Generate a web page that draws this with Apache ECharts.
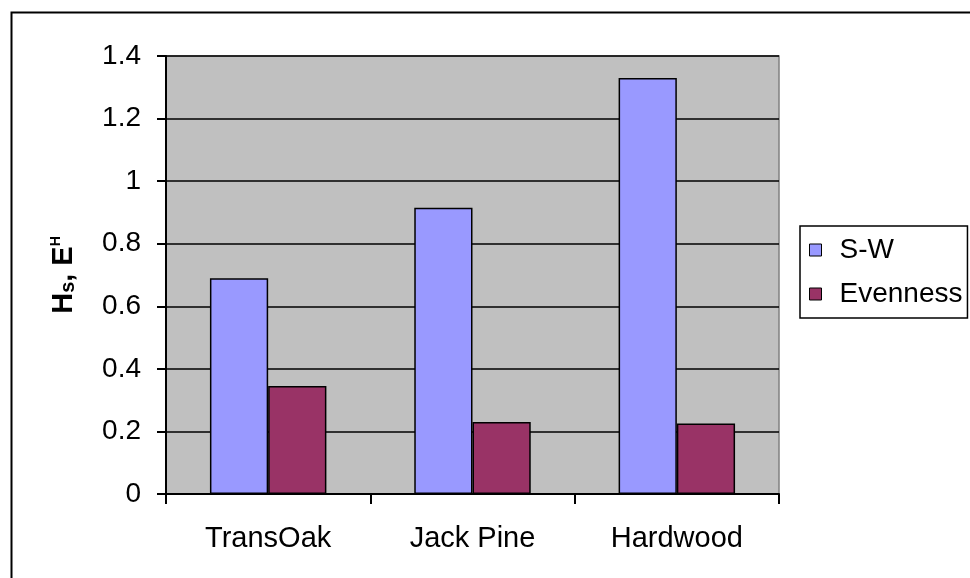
<!DOCTYPE html>
<html>
<head>
<meta charset="utf-8">
<script src="https://cdn.jsdelivr.net/npm/echarts@6/dist/echarts.min.js"></script>
<style>
  html, body { margin: 0; padding: 0; background: #ffffff; }
  #chart { width: 970px; height: 578px; }
</style>
</head>
<body>
<div id="chart"></div>
<script>
// Stand types along the x axis
const categories = ['TransOak', 'Jack Pine', 'Hardwood'];
// Shannon-Wiener diversity index (H_S)
const swValues = [0.69, 0.915, 1.33];
// Evenness (E_H)
const evennessValues = [0.345, 0.23, 0.225];
// Value-axis tick range
const yMin = 0;
const yMax = 1.4;
const yStep = 0.2;

const FONT = "'Liberation Sans', Arial, sans-serif";

const chart = echarts.init(document.getElementById('chart'), null, { renderer: 'canvas' });

chart.setOption({
  backgroundColor: '#ffffff',
  animation: false,
  textStyle: { fontFamily: FONT },
  graphic: [{
    type: 'rect',
    left: 9, top: 10,
    shape: { width: 990, height: 600 },
    style: { fill: 'none', stroke: '#000000', lineWidth: 2 },
    z: 100
  }],
  grid: {
    left: 166, top: 56, right: 191, bottom: 84,
    show: true,
    backgroundColor: '#c0c0c0',
    borderColor: '#808080',
    borderWidth: 1.5
  },
  legend: {
    orient: 'vertical',
    left: 800, top: 226,
    padding: [10, 5, 10, 9],
    itemGap: 16,
    itemWidth: 12, itemHeight: 12,
    icon: 'rect',
    backgroundColor: '#ffffff',
    borderColor: '#000000',
    borderWidth: 1.5,
    borderRadius: 0,
    textStyle: { fontFamily: FONT, fontSize: 28, color: '#000000', padding: [0, 0, 0, 13] },
    data: [
      { name: 'S-W', itemStyle: { borderColor: '#000000', borderWidth: 1 } },
      { name: 'Evenness', itemStyle: { borderColor: '#000000', borderWidth: 1 } }
    ]
  },
  xAxis: {
    type: 'category',
    data: categories,
    boundaryGap: true,
    axisLine: { show: true, lineStyle: { color: '#000000', width: 2 } },
    axisTick: { show: true, length: 10, alignWithLabel: false, lineStyle: { color: '#000000', width: 2 } },
    axisLabel: { margin: 30, fontSize: 29, color: '#000000', fontFamily: FONT },
    splitLine: { show: false }
  },
  yAxis: {
    type: 'value',
    min: yMin, max: yMax, interval: yStep,
    name: '{b|H}{sub|s}{b|, E}{sup|H}',
    nameLocation: 'middle',
    nameGap: 88,
    nameRotate: 90,
    nameTextStyle: {
      rich: {
        b: { fontSize: 29, fontWeight: 'bold', color: '#000000', fontFamily: FONT, verticalAlign: 'bottom', lineHeight: 29 },
        sub: { fontSize: 20, fontWeight: 'bold', color: '#000000', fontFamily: FONT, verticalAlign: 'bottom', lineHeight: 29 },
        sup: { fontSize: 14, fontWeight: 'bold', color: '#000000', fontFamily: FONT, verticalAlign: 'top', lineHeight: 29 }
      }
    },
    axisLine: { show: true, lineStyle: { color: '#000000', width: 2 } },
    axisTick: { show: true, length: 9, lineStyle: { color: '#000000', width: 2 } },
    axisLabel: { margin: 25, fontSize: 28, color: '#000000', fontFamily: FONT },
    splitLine: { show: true, lineStyle: { color: '#000000', width: 1.5 } }
  },
  series: [
    {
      name: 'S-W',
      type: 'bar',
      data: swValues,
      barGap: '0%',
      barCategoryGap: '43%',
      itemStyle: { color: '#9999ff', borderColor: '#000000', borderWidth: 1.5 }
    },
    {
      name: 'Evenness',
      type: 'bar',
      data: evennessValues,
      itemStyle: { color: '#993366', borderColor: '#000000', borderWidth: 1.5 }
    }
  ]
});
</script>
</body>
</html>
